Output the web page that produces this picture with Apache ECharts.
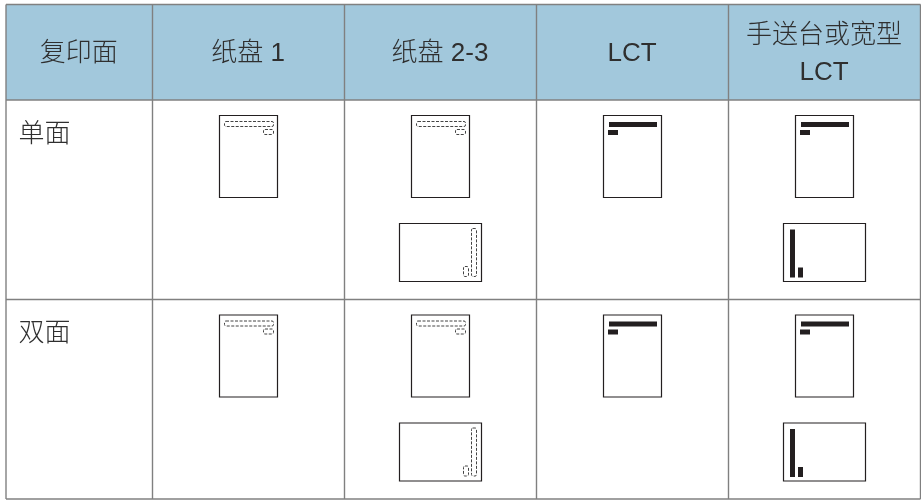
<!DOCTYPE html>
<html>
<head>
<meta charset="utf-8">
<style>
html,body{margin:0;padding:0;background:#fff;}
#main{width:921px;height:500px;}
</style>
<script src="https://cdn.jsdelivr.net/npm/echarts@6/dist/echarts.min.js"></script>
</head>
<body>
<div id="main"></div>
<script>
// table content
var columns = ['复印面', '纸盘 1', '纸盘 2-3', 'LCT', '手送台或宽型\nLCT'];
var rows = ['单面', '双面'];
// what each body cell shows, per row then per column (first column holds the row name)
var cellIcons = [
    [['dashPortrait'], ['dashPortrait', 'dashLandscape'], ['solidPortrait'], ['solidPortrait', 'solidLandscape']],
    [['dashPortrait'], ['dashPortrait', 'dashLandscape'], ['solidPortrait'], ['solidPortrait', 'solidLandscape']]
];

// layout in page pixels, kept apart from the content
var colX = [6, 152.5, 344.5, 536.5, 728.5, 920.5];
var rowY = [4.5, 100, 299.5, 499];
var lineColor = '#808080';
var textColor = '#2f2f2f';
var inkColor = '#231f20';
var fontName = '"Liberation Sans","Noto Sans CJK SC",sans-serif';

// sheets: size + offset from the top of the row. bars are x,y,w,h inside the sheet
var sheets = {
    dashPortrait: {w: 58, h: 82, top: 15.5, dash: true, bars: [[5, 6, 49, 5], [44, 14, 10, 5]]},
    dashLandscape: {w: 82, h: 58, top: 123.5, dash: true, bars: [[72, 5, 5, 48], [64, 43, 5, 10]]},
    solidPortrait: {w: 58, h: 82, top: 15.5, dash: false, bars: [[5.5, 6.5, 48, 5], [4.5, 14.5, 10, 5]]},
    solidLandscape: {w: 82, h: 58, top: 123.5, dash: false, bars: [[6.5, 6, 5, 48], [14.5, 44, 5, 10]]}
};

function rectShape(api, x0, y0, x1, y1) {
    var a = api.coord([x0, y0]);
    var b = api.coord([x1, y1]);
    return {x: a[0], y: a[1], width: b[0] - a[0], height: b[1] - a[1]};
}

// 1. header fill + grid lines
function renderFrame(params, api) {
    var kids = [{
        type: 'rect',
        shape: rectShape(api, colX[0], rowY[0], colX[5], rowY[1]),
        style: {fill: '#a2c8dc'}
    }];
    colX.forEach(function (x) {
        var a = api.coord([x, rowY[0]]);
        var b = api.coord([x, rowY[3]]);
        kids.push({type: 'line', shape: {x1: a[0], y1: a[1], x2: b[0], y2: b[1]}, style: {stroke: lineColor, lineWidth: 1.4}});
    });
    rowY.forEach(function (y) {
        var a = api.coord([colX[0], y]);
        var b = api.coord([colX[5], y]);
        kids.push({type: 'line', shape: {x1: a[0], y1: a[1], x2: b[0], y2: b[1]}, style: {stroke: lineColor, lineWidth: 1.4}});
    });
    return {type: 'group', children: kids};
}

// 2. header labels
function renderHeader(params, api) {
    var i = api.value(0);
    var p = api.coord([(colX[i] + colX[i + 1]) / 2 - 0.5, (rowY[0] + rowY[1]) / 2 + 2]);
    return {
        type: 'text',
        style: {
            x: p[0], y: p[1], text: columns[i], align: 'center', verticalAlign: 'middle',
            fill: textColor, font: '300 26px ' + fontName, lineHeight: 37
        }
    };
}

// 3. row labels
function renderRow(params, api) {
    var r = api.value(0);
    var p = api.coord([18.5, rowY[r + 1] + 34.5]);
    return {
        type: 'text',
        style: {
            x: p[0], y: p[1], text: rows[r], align: 'left', verticalAlign: 'middle',
            fill: textColor, font: '300 26px ' + fontName
        }
    };
}

// 4. paper sheet icons
function renderSheet(params, api) {
    var r = api.value(0);
    var c = api.value(1);
    var s = sheets[cellIcons[r][c][api.value(2)]];
    var left = (colX[c + 1] + colX[c + 2]) / 2 - s.w / 2;
    var top = rowY[r + 1] + s.top;
    var kids = [{
        type: 'rect',
        shape: rectShape(api, left, top, left + s.w, top + s.h),
        style: {fill: '#fff', stroke: inkColor, lineWidth: 1.2}
    }];
    s.bars.forEach(function (b) {
        var shape = rectShape(api, left + b[0], top + b[1], left + b[0] + b[2], top + b[1] + b[3]);
        if (s.dash) {
            shape.r = 1.5;
            kids.push({type: 'rect', shape: shape, style: {fill: '#fff', stroke: '#444', lineWidth: 1, lineDash: [3, 1.5]}});
        } else {
            kids.push({type: 'rect', shape: shape, style: {fill: inkColor}});
        }
    });
    return {type: 'group', children: kids};
}

var sheetData = [];
cellIcons.forEach(function (row, r) {
    row.forEach(function (cell, c) {
        cell.forEach(function (name, k) {
            sheetData.push([r, c, k]);
        });
    });
});

var chart = echarts.init(document.getElementById('main'), null, {renderer: 'canvas'});
chart.setOption({
    animation: false,
    backgroundColor: '#fff',
    grid: {left: 0, top: 0, width: 921, height: 500},
    xAxis: {type: 'value', min: 0, max: 921, show: false},
    yAxis: {type: 'value', min: 0, max: 500, inverse: true, show: false},
    series: [
        {type: 'custom', silent: true, clip: false, renderItem: renderFrame, data: [[0]], encode: {x: -1, y: -1}, z: 1},
        {type: 'custom', silent: true, clip: false, renderItem: renderHeader, data: columns.map(function (n, i) { return [i]; }), encode: {x: -1, y: -1}, z: 2},
        {type: 'custom', silent: true, clip: false, renderItem: renderRow, data: rows.map(function (n, i) { return [i]; }), encode: {x: -1, y: -1}, z: 2},
        {type: 'custom', silent: true, clip: false, renderItem: renderSheet, data: sheetData, encode: {x: -1, y: -1}, z: 2}
    ]
});
</script>
</body>
</html>
